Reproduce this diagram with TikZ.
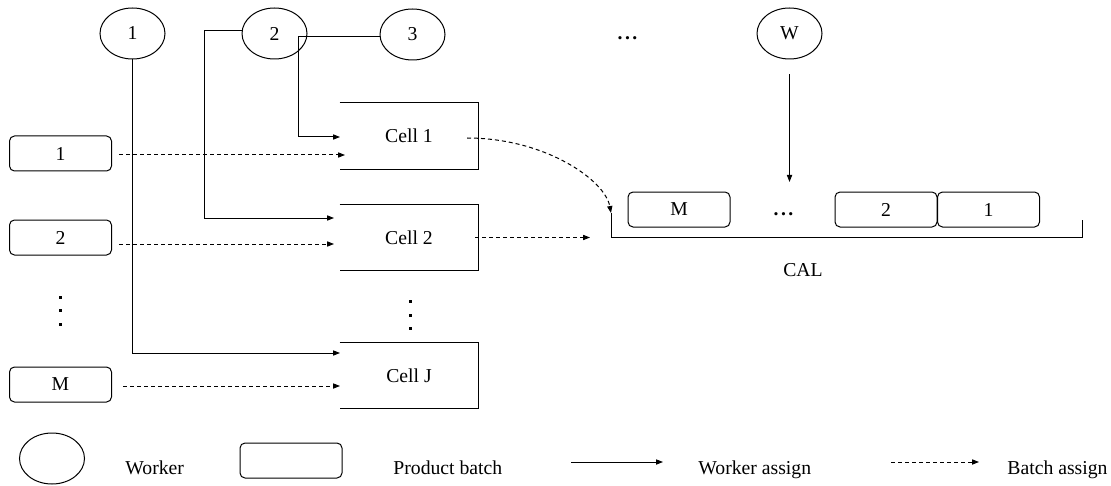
\documentclass[tikz,border=0pt]{standalone}
\usepackage{fontspec}
\setmainfont{Liberation Serif}
\usetikzlibrary{arrows.meta,shapes.geometric}
\begin{document}
\begin{tikzpicture}[x=0.5pt,y=-0.5pt,
  every node/.style={font=\fontsize{9.85}{11}\selectfont, inner sep=0pt},
  worker/.style={ellipse, draw, line width=0.5pt, minimum width=32.5pt, minimum height=25.5pt},
  batch/.style={rectangle, draw, line width=0.5pt, rounded corners=2.5pt, minimum width=51pt, minimum height=17.5pt},
  cellbox/.style={rectangle, minimum width=69pt, minimum height=33pt},
  wa/.style={-{Triangle[length=3.5pt,width=2.6pt]}, line width=0.5pt},
  ba/.style={wa, dash pattern=on 2pt off 1.5pt},
  lab/.style={anchor=base west},
  hdots/.style={anchor=base, font=\fontsize{9.85}{11}\selectfont\bfseries}]
\useasboundingbox (0,0) rectangle (1111,486);

% workers
\node[worker] (w1) at (132.5,33.5) {1};
\node[worker] (w2) at (274.5,33.5) {2};
\node[worker] (w3) at (412.5,34.5) {3};
\node[hdots] (wdots) at (627.5,40) {.\kern1.2pt.\kern1.2pt.};
\node[worker] (wW) at (789.5,33.5) {W};

% product batches
\node[batch] (b1) at (60.5,153.5) {1};
\node[batch] (b2) at (60.5,237.5) {2};
\node[batch] (bM) at (60.5,384.5) {M};
\foreach \yy in {297,310.5,324} \fill (58.5,\yy-1.5) rectangle (61.5,\yy+1.5);

% cells
\node[cellbox] (cell1) at (409,136) {Cell 1};
\node[cellbox] (cell2) at (409,237.5) {Cell 2};
\node[cellbox] (cellJ) at (409,375.5) {Cell J};
\foreach \c in {cell1,cell2,cellJ}
  \draw[line width=0.5pt] (\c.north west) -- (\c.north east) -- (\c.south east) -- (\c.south west);
\foreach \yy in {301.5,315,328.5} \fill (408.5,\yy-1.5) rectangle (411.5,\yy+1.5);

% CAL
\coordinate (calTL) at (611,213);
\coordinate (calBL) at (611,237);
\coordinate (calBR) at (1082,237);
\coordinate (calTR) at (1082,220);
\draw[line width=0.5pt] (calTL) -- (calBL) -- (calBR) -- (calTR);
\node[batch] (qM) at (679,209.5) {M};
\node[hdots] (qdots) at (783.5,215) {.\kern1.2pt.\kern1.2pt.};
\node[batch] (q2) at (886,209.5) {2};
\node[batch] (q1) at (988.5,209.5) {1};
\node (cal) at (803,270) {CAL};

% worker assignments
\coordinate (k3) at (298,37);
\coordinate (c1in) at (340,137);
\draw[wa] (w3.west |- k3) -- (k3) |- (c1in);
\coordinate (k2) at (204,30.5);
\coordinate (c2in) at (334,218);
\draw[wa] (w2.west |- k2) -- (k2) |- (c2in);
\coordinate (cJin) at (340,353);
\draw[wa] (w1.south) |- (cJin);
\coordinate (calin) at (789.5,182);
\draw[wa] ([yshift=-7.5pt]wW.south) -- (calin);

% batch assignments
\coordinate (t1) at (345,155);
\coordinate (t2) at (334,244);
\coordinate (tM) at (340,386);
\draw[ba] ([xshift=3.5pt]b1.east |- t1) -- (t1);
\draw[ba] ([xshift=3.5pt]b2.east |- t2) -- (t2);
\draw[ba] ([xshift=5.5pt]bM.east |- tM) -- (tM);
\draw[ba] (467,138) .. controls (545,138) and (605,180) .. (calTL);
\draw[ba] ([xshift=-1.5pt]cell2.east) -- (590,237.5);

% legend
\node[worker] (lw) at (52,458.5) {};
\node[lab] (lwt) at (125,474) {Worker};
\node[batch] (lb) at (291,460.5) {};
\node[lab] (lbt) at (393,474) {Product batch};
\coordinate (ls1) at (571,462);
\coordinate (ls2) at (663,462);
\draw[wa] (ls1) -- (ls2);
\node[lab] (lst) at (698,474) {Worker assign};
\coordinate (ld1) at (891,462);
\coordinate (ld2) at (979,462);
\draw[ba] (ld1) -- (ld2);
\node[lab] (ldt) at (1007,474) {Batch assign};
\end{tikzpicture}
\end{document}
